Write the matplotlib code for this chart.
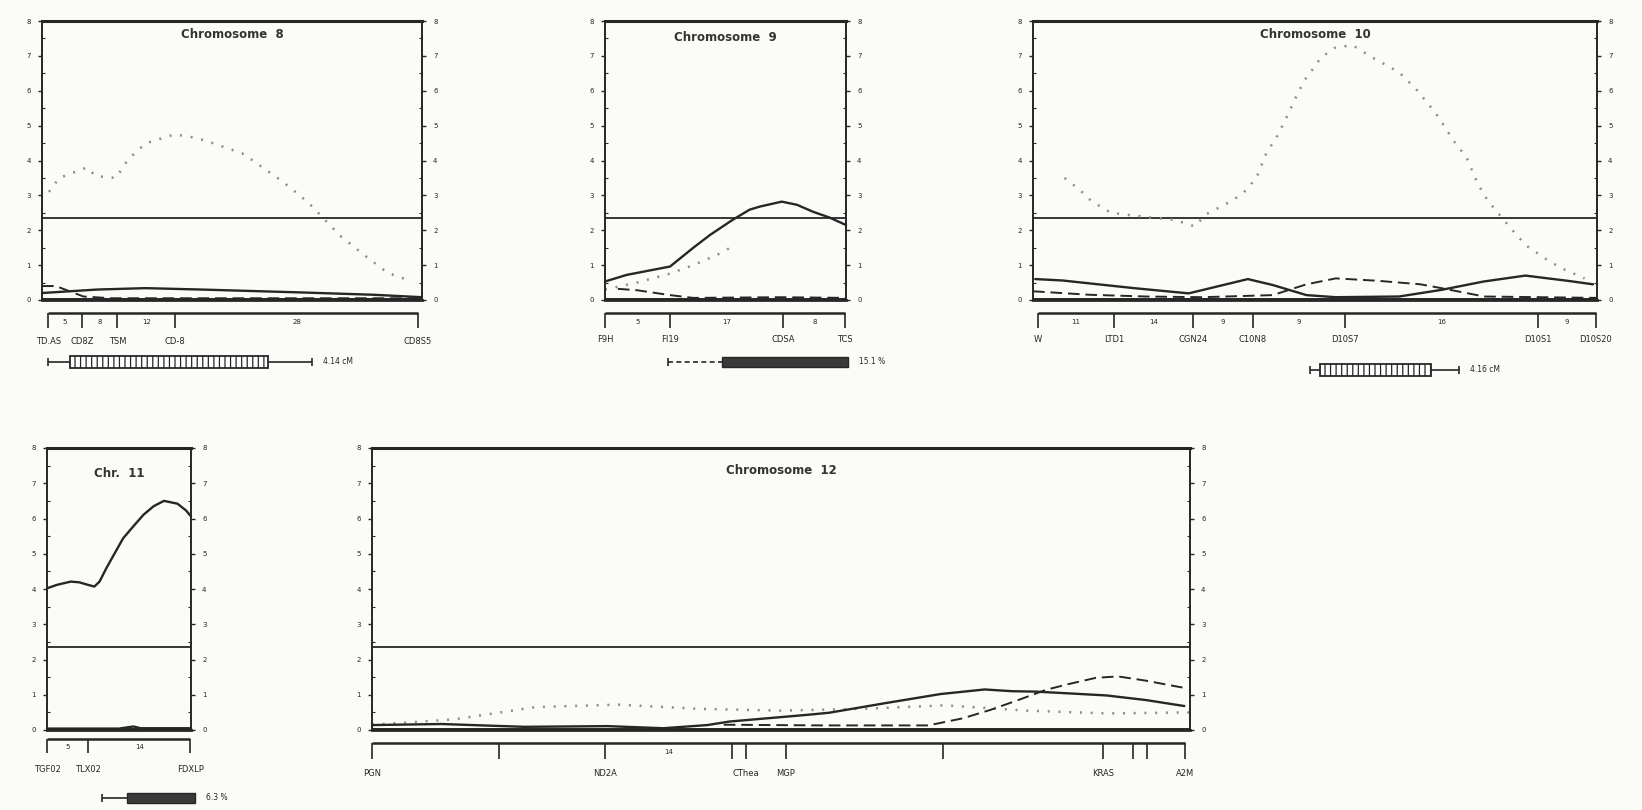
import matplotlib
matplotlib.use("Agg")
import matplotlib.pyplot as plt
import numpy as np
from matplotlib.patches import Rectangle

W, H = 1642, 810
INK = "#262626"
DOT = "#8c8c8c"
BG = "#fbfbf8"

THRESHOLD = 2.35

# ---- Chromosome 8 (x in cM) ----
chr8_len = 55
chr8_dot_x = [1.0, 2.5, 6.5, 7.8, 10.7, 12.2, 13.6, 15.1, 19.2, 22.3, 24.7, 29.0, 30.5,
              34.8, 37.6, 39.0, 41.9, 43.1, 47.2, 48.9, 50.0, 53.0]
chr8_dot_y = [3.1, 3.5, 3.8, 3.55, 3.5, 3.95, 4.25, 4.5, 4.75, 4.65, 4.5, 4.2, 4.0,
              3.4, 2.95, 2.7, 2.1, 1.85, 1.2, 0.95, 0.78, 0.57]
chr8_solid_x = [0, 8, 15, 23, 37, 48, 55]
chr8_solid_y = [0.2, 0.3, 0.34, 0.3, 0.22, 0.15, 0.08]
chr8_dash_x = [0, 2, 4, 6, 10, 55]
chr8_dash_y = [0.4, 0.4, 0.25, 0.1, 0.05, 0.05]
chr8_markers = [0.9, 5.8, 10.9, 19.3, 54.4]
chr8_names = ["TD.AS", "CD8Z", "TSM", "CD-8", "CD8S5"]
chr8_gaps = ["5", "8", "12", "28"]
chr8_interval = [0.9, 4.05, 32.7, 39.1]
chr8_interval_label = "4.14 cM"

# ---- Chromosome 9 ----
chr9_len = 30
chr9_solid_x = [0, 2.7, 8.1, 11.0, 13.1, 15.9, 18.0, 19.3, 22.0, 23.9, 25.9, 28.0, 30]
chr9_solid_y = [0.53, 0.72, 0.96, 1.5, 1.87, 2.3, 2.59, 2.68, 2.82, 2.73, 2.53, 2.36, 2.15]
chr9_dash_x = [1.6, 4.0, 8.1, 11.0, 21.8, 30]
chr9_dash_y = [0.32, 0.28, 0.14, 0.06, 0.08, 0.06]
chr9_dot_x = [0, 4, 8, 11, 14, 16]
chr9_dot_y = [0.3, 0.5, 0.75, 1.0, 1.3, 1.55]
chr9_markers = [0, 8.1, 22.2, 29.9]
chr9_names = ["F9H", "FI19", "CDSA", "TCS"]
chr9_gaps = ["5", "17", "8"]
chr9_interval = [7.8, 14.6, 30.2, 30.2]
chr9_interval_label = "15.1 %"

# ---- Chromosome 10 ----
chr10_len = 100
chr10_dot_x = [5.6, 8.2, 10.4, 13.8, 20, 25, 28.7, 30.6, 35.1, 37.3, 39.6, 41.4, 43.3,
               45.1, 46.6, 48.1, 49.6, 51.1, 53.7, 56.7, 60.1, 64.9, 67.9, 71.3, 73.1,
               74.6, 76.9, 78.4, 79.9, 81.7, 84.7, 87.3, 90.7, 93.7, 97.8]
chr10_dot_y = [3.5, 3.17, 2.83, 2.5, 2.38, 2.3, 2.11, 2.45, 2.83, 3.07, 3.5, 4.22, 4.7,
               5.28, 5.81, 6.29, 6.62, 6.96, 7.25, 7.3, 6.96, 6.53, 6.05, 5.38, 4.94,
               4.56, 4.08, 3.5, 3.02, 2.64, 2.06, 1.58, 1.2, 0.91, 0.62]
chr10_solid_x = [0.4, 5.2, 17.9, 27.6, 38.1, 42.5, 48.5, 53.7, 64.9, 72.4, 79.9, 87.3, 94.8, 99.3]
chr10_solid_y = [0.6, 0.56, 0.34, 0.19, 0.6, 0.43, 0.14, 0.08, 0.1, 0.29, 0.53, 0.7, 0.55, 0.45]
chr10_dash_x = [0, 10, 20, 30, 42.5, 48.5, 53.7, 61.2, 68.7, 72.4, 80, 100]
chr10_dash_y = [0.25, 0.15, 0.1, 0.08, 0.14, 0.45, 0.62, 0.55, 0.45, 0.34, 0.1, 0.06]
chr10_markers = [0.9, 14.4, 28.4, 39.0, 55.3, 89.5, 99.8]
chr10_names = ["W", "LTD1", "CGN24", "C10N8", "D10S7", "D10S1", "D10S20"]
chr10_gaps = ["11", "14", "9", "9", "16", "9"]
chr10_interval = [49.1, 50.9, 70.5, 75.5]
chr10_interval_label = "4.16 cM"

# ---- Chromosome 11 ----
chr11_len = 20
chr11_solid_x = [0, 1.42, 3.3, 4.48, 5.64, 6.58, 7.3, 8.24, 9.42, 10.58, 12.0, 13.42,
                 14.82, 16.24, 18.12, 19.3, 20]
chr11_solid_y = [4.02, 4.12, 4.21, 4.19, 4.12, 4.07, 4.21, 4.59, 5.02, 5.44, 5.78, 6.11,
                 6.35, 6.5, 6.42, 6.23, 6.06]
chr11_base_x = [0, 10, 12, 13, 20]
chr11_base_y = [0.04, 0.04, 0.1, 0.05, 0.05]
chr11_markers = [0, 5.7, 19.9]
chr11_names = ["TGF02", "TLX02", "FDXLP"]
chr11_gaps = ["5", "14"]
chr11_interval = [7.6, 11.1, 20.6, 20.6]
chr11_interval_label = "6.3 %"

# ---- Chromosome 12 ----
chr12_len = 100
chr12_solid_x = [0, 8.5, 18.6, 28.8, 35.6, 41, 43.7, 49.2, 53.2, 55.9, 62.7, 69.5, 74.9,
                 78.3, 81, 85.1, 89.8, 94.6, 99.3]
chr12_solid_y = [0.14, 0.17, 0.09, 0.11, 0.05, 0.14, 0.24, 0.35, 0.43, 0.49, 0.76, 1.02,
                 1.15, 1.1, 1.09, 1.04, 0.98, 0.85, 0.68]
chr12_dash_x = [43, 55, 68, 72.2, 75.6, 79, 82.4, 85.1, 88.5, 91.2, 94.6, 98, 99.7]
chr12_dash_y = [0.15, 0.13, 0.13, 0.33, 0.57, 0.85, 1.14, 1.3, 1.48, 1.52, 1.4, 1.25, 1.18]
chr12_dot_x = [0, 10, 20, 30, 40, 50, 60, 70, 80, 90, 100]
chr12_dot_y = [0.15, 0.3, 0.65, 0.72, 0.6, 0.55, 0.6, 0.7, 0.55, 0.47, 0.5]
chr12_markers = [0, 15.5, 28.5, 44, 45.7, 50.6, 69.8, 89.4, 93, 94.7, 99.4]
chr12_names = ["PGN", "", "ND2A", "", "CThea", "MGP", "", "KRAS", "", "", "A2M"]
chr12_gaps = ["", "", "14", "", "", "", "", "", "", ""]

plt.rcParams["hatch.linewidth"] = 0.9
plt.rcParams["font.family"] = ["DejaVu Sans"]


def px_rect(left, right, top, bottom):
    return [left / W, 1 - bottom / H, (right - left) / W, (bottom - top) / H]


def lod_axes(fig, rect, length, title, title_xy):
    ax = fig.add_axes(rect)
    ax.set_facecolor("none")
    ax.set_xlim(0, length)
    ax.set_ylim(0, 8)
    for s in ax.spines.values():
        s.set_color(INK)
        s.set_linewidth(1.4)
    ax.spines["top"].set_linewidth(2.2)
    ax.spines["bottom"].set_linewidth(2.0)
    ax.set_xticks([])
    ax.set_yticks(range(9))
    ax.set_yticks(np.arange(0, 8.01, 0.5), minor=True)
    ax.tick_params(axis="y", which="major", direction="out", length=3, width=1,
                   labelsize=5, labelcolor=INK, color=INK, left=True, right=True,
                   labelleft=True, labelright=True, pad=5)
    ax.tick_params(axis="y", which="minor", direction="in", length=2, width=0.8,
                   left=True, right=True, color=INK)
    ax.axhline(THRESHOLD, color=INK, lw=1.3)
    ax.axhline(0.04, color=INK, lw=1.4)
    ax.text(title_xy[0], title_xy[1], title, transform=ax.transAxes, ha="center",
            va="center", fontsize=8.5, fontweight="bold", color="#333333")
    return ax


def solid(ax, x, y):
    ax.plot(x, y, color=INK, lw=1.7, solid_capstyle="round", clip_on=False)


def dashed(ax, x, y):
    ax.plot(x, y, color=INK, lw=1.4, ls=(0, (6, 3)), clip_on=False)


def dotted(ax, x, y):
    ax.plot(x, y, color=DOT, lw=1.8, ls=(0, (0.8, 3.5)), clip_on=False)


def map_axes(fig, rect, length, height):
    m = fig.add_axes(rect)
    m.set_xlim(0, length)
    m.set_ylim(height, 0)
    m.axis("off")
    return m


def draw_map(m, markers, names, gaps, line_y, tick_len, name_y):
    m.hlines(line_y, markers[0], markers[-1], color=INK, lw=1.8, clip_on=False)
    m.vlines(markers, line_y, line_y + tick_len, color=INK, lw=1.2, clip_on=False)
    for a, b, g in zip(markers[:-1], markers[1:], gaps):
        if g:
            m.text((a + b) / 2, line_y + tick_len / 2 + 1, g, ha="center", va="center",
                   fontsize=5, color=INK)
    for x, n in zip(markers, names):
        if n:
            m.text(x, name_y, n, ha="center", va="center", fontsize=6, color=INK)


def draw_interval(m, y, bounds, label, filled, dash_whisker=False):
    start, lo, hi, end = bounds
    ls = (0, (3, 2)) if dash_whisker else "-"
    m.hlines(y, start, lo, color=INK, lw=1.2, ls=ls, clip_on=False)
    if end > hi:
        m.hlines(y, hi, end, color=INK, lw=1.2, clip_on=False)
        m.vlines(end, y - 4, y + 4, color=INK, lw=1.2, clip_on=False)
    m.vlines(start, y - 4, y + 4, color=INK, lw=1.2, clip_on=False)
    if filled:
        box = Rectangle((lo, y - 5), hi - lo, 10, facecolor="#3a3a3a",
                        edgecolor=INK, lw=1, clip_on=False)
    else:
        box = Rectangle((lo, y - 6), hi - lo, 12, facecolor="white", hatch="|||",
                        edgecolor=INK, lw=1.3, clip_on=False)
    m.add_patch(box)
    m.annotate(label, (end, y), xytext=(8, 0), textcoords="offset points",
               ha="left", va="center", fontsize=5.5, color=INK, annotation_clip=False)


fig = plt.figure(figsize=(W / 100, H / 100), dpi=100, facecolor=BG)

# Chromosome 8
ax = lod_axes(fig, px_rect(42, 422, 21, 300), chr8_len, "Chromosome  8", (0.5, 0.95))
dotted(ax, chr8_dot_x, chr8_dot_y)
dashed(ax, chr8_dash_x, chr8_dash_y)
solid(ax, chr8_solid_x, chr8_solid_y)
m = map_axes(fig, px_rect(42, 422, 300, 380), chr8_len, 80)
draw_map(m, chr8_markers, chr8_names, chr8_gaps, 13, 15, 41)
draw_interval(m, 62, chr8_interval, chr8_interval_label, filled=False)

# Chromosome 9
ax = lod_axes(fig, px_rect(605, 846, 21, 300), chr9_len, "Chromosome  9", (0.5, 0.94))
dotted(ax, chr9_dot_x, chr9_dot_y)
dashed(ax, chr9_dash_x, chr9_dash_y)
solid(ax, chr9_solid_x, chr9_solid_y)
m = map_axes(fig, px_rect(605, 846, 300, 380), chr9_len, 80)
draw_map(m, chr9_markers, chr9_names, chr9_gaps, 13, 15, 40)
draw_interval(m, 62, chr9_interval, chr9_interval_label, filled=True, dash_whisker=True)

# Chromosome 10
ax = lod_axes(fig, px_rect(1033, 1597, 21, 300), chr10_len, "Chromosome  10", (0.5, 0.95))
dotted(ax, chr10_dot_x, chr10_dot_y)
dashed(ax, chr10_dash_x, chr10_dash_y)
solid(ax, chr10_solid_x, chr10_solid_y)
m = map_axes(fig, px_rect(1033, 1597, 300, 380), chr10_len, 80)
draw_map(m, chr10_markers, chr10_names, chr10_gaps, 13, 15, 40)
draw_interval(m, 70, chr10_interval, chr10_interval_label, filled=False)

# Chromosome 11
ax = lod_axes(fig, px_rect(47, 191, 448, 730), chr11_len, "Chr.  11", (0.5, 0.91))
solid(ax, chr11_base_x, chr11_base_y)
solid(ax, chr11_solid_x, chr11_solid_y)
m = map_axes(fig, px_rect(47, 191, 730, 810), chr11_len, 80)
draw_map(m, chr11_markers, chr11_names, chr11_gaps, 9, 14, 40)
draw_interval(m, 68, chr11_interval, chr11_interval_label, filled=True)

# Chromosome 12
ax = lod_axes(fig, px_rect(372, 1190, 448, 730), chr12_len, "Chromosome  12", (0.5, 0.92))
dotted(ax, chr12_dot_x, chr12_dot_y)
dashed(ax, chr12_dash_x, chr12_dash_y)
solid(ax, chr12_solid_x, chr12_solid_y)
m = map_axes(fig, px_rect(372, 1190, 730, 810), chr12_len, 80)
draw_map(m, chr12_markers, chr12_names, chr12_gaps, 13, 16, 43)

fig.savefig("out.png", dpi=100, facecolor=BG)
